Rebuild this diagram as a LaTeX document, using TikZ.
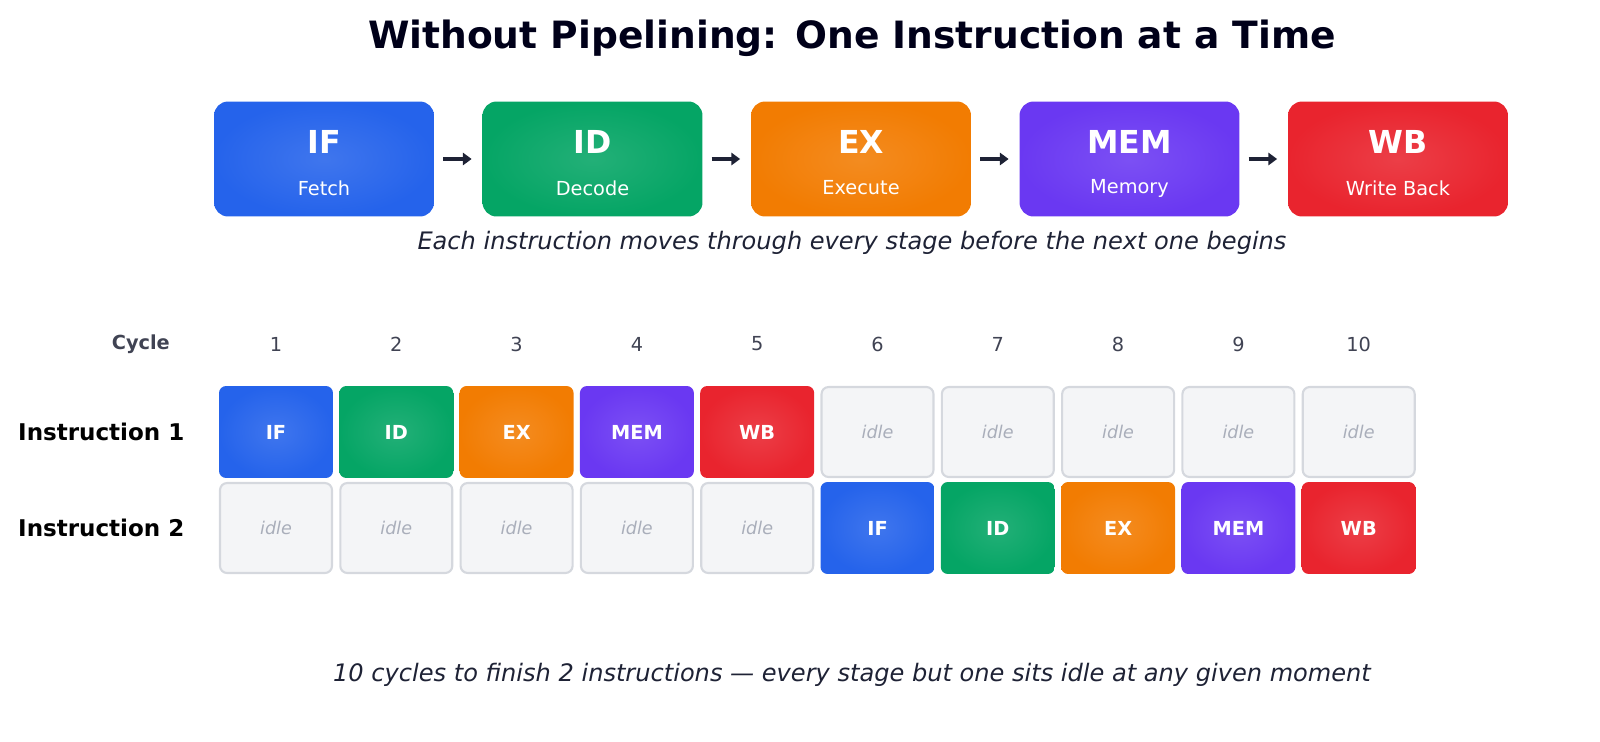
\documentclass[tikz,border=0pt]{standalone}
\usepackage{fontspec}
\setmainfont{DejaVu Sans}
\usetikzlibrary{positioning,arrows.meta}
\definecolor{cIF}{HTML}{2563EB}
\definecolor{cID}{HTML}{05A565}
\definecolor{cEX}{HTML}{F27C02}
\definecolor{cMEM}{HTML}{6A38F2}
\definecolor{cWB}{HTML}{E9242E}
\definecolor{ink}{HTML}{1E2235}
\definecolor{idlefill}{HTML}{F4F5F7}
\definecolor{idleline}{HTML}{D5D8DE}
\definecolor{idletext}{HTML}{A9AEBA}
\begin{document}
\begin{tikzpicture}[
    x=0.02cm, y=-0.02cm,
    stage/.style={rectangle, rounded corners=8pt, minimum width=4.4cm, minimum height=2.3cm,
        inner color=#1!88!white, outer color=#1, draw=none, text=white, align=center},
    cell/.style={rectangle, rounded corners=4pt, minimum width=2.28cm, minimum height=1.84cm,
        inner color=#1!88!white, outer color=#1, text=white,
        font=\bfseries\fontsize{11pt}{13pt}\selectfont},
    idle/.style={rectangle, rounded corners=4pt, minimum width=2.24cm, minimum height=1.8cm,
        fill=idlefill, draw=idleline, line width=1.2pt, text=idletext,
        font=\itshape\fontsize{10pt}{12pt}\selectfont},
    arrow/.style={-{Triangle[length=5pt,width=7pt]}, line width=2.2pt, draw=ink, shorten <=5pt, shorten >=6pt}
]
% Title
\node[font=\bfseries\fontsize{21.4pt}{25pt}\selectfont, text=black!90!blue] (title) at (852,38) {Without Pipelining: One Instruction at a Time};
% Stages
\foreach \n/\s/\c [count=\i from 0] in {IF/Fetch/cIF, ID/Decode/cID, EX/Execute/cEX, MEM/Memory/cMEM, WB/Write Back/cWB}{
  \node[stage=\c] (st\i) at (324+268.5*\i,159) {};
  \node[text=white, font=\bfseries\fontsize{18pt}{20pt}\selectfont] (stn\i) at (324+268.5*\i,142) {\n};
  \node[text=white, font=\fontsize{11pt}{13pt}\selectfont] (sts\i) at (324+268.5*\i,188) {\s};
}
\foreach \i [evaluate=\i as \j using int(\i+1)] in {0,...,3}
  \draw[arrow] (st\i) -- (st\j);
\node[font=\itshape\fontsize{13.7pt}{16pt}\selectfont, text=ink] (sub) at (852,243) {Each instruction moves through every stage before the next one begins};
% Timing grid
\node[anchor=east, font=\bfseries\fontsize{11pt}{13pt}\selectfont, text=ink!85] (cyc) at (176,344) {Cycle};
\foreach \k in {1,...,10}
  \node[font=\fontsize{11pt}{13pt}\selectfont, text=ink!85] (c\k) at (276+120.3*\k-120.3,344) {\k};
\node[anchor=west, font=\bfseries\fontsize{13.1pt}{15pt}\selectfont] (ins1) at (12,432) {Instruction 1};
\node[anchor=west, font=\bfseries\fontsize{13.1pt}{15pt}\selectfont] (ins2) at (12,528) {Instruction 2};
\foreach \n/\c [count=\i from 0] in {IF/cIF, ID/cID, EX/cEX, MEM/cMEM, WB/cWB}{
  \node[cell=\c] (ra\i) at (276+120.3*\i,432) {\n};
  \node[idle] (rb\i) at (276+120.3*\i,528) {idle};
  \node[idle] (ia\i) at (276+120.3*\i+601.5,432) {idle};
  \node[cell=\c] (ib\i) at (276+120.3*\i+601.5,528) {\n};
}
% Footer
\node[font=\itshape\fontsize{13.7pt}{16pt}\selectfont, text=ink] (foot) at (852,675) {10 cycles to finish 2 instructions — every stage but one sits idle at any given moment};
\pgfresetboundingbox
\useasboundingbox (0,0) rectangle (1600,741);
\end{tikzpicture}
\end{document}
